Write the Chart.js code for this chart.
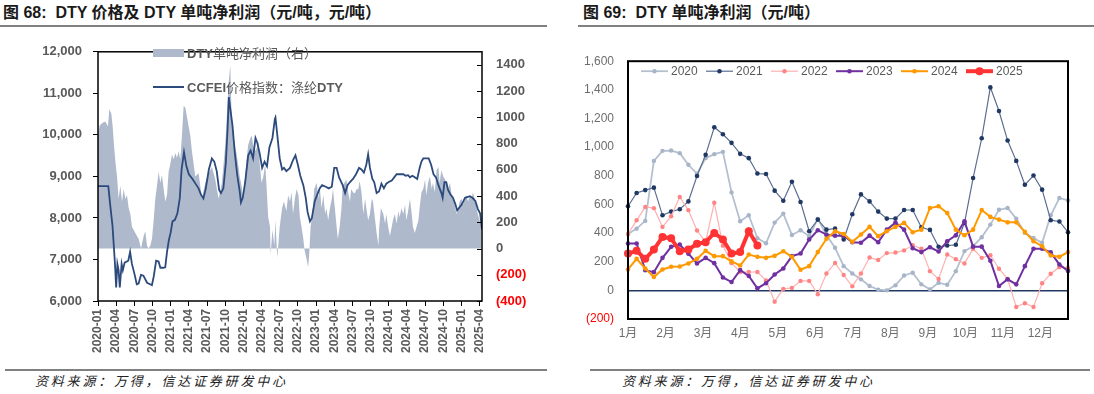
<!DOCTYPE html>
<html>
<head>
<meta charset="utf-8">
<script src="https://cdn.jsdelivr.net/npm/chart.js@4.4.1/dist/chart.umd.min.js"></script>
<style>
body { margin: 0; width: 1094px; height: 394px; background: #fff; position: relative; overflow: hidden; font-family: "Liberation Sans", "Noto Sans CJK SC", sans-serif; }
.title { position: absolute; top: 3px; font-weight: bold; font-size: 16px; color: #1a1a1a; white-space: nowrap; line-height: 20px; }
.rule { position: absolute; height: 2px; background: #808080; }
.src { position: absolute; top: 371px; font-size: 13px; font-style: italic; color: #222; letter-spacing: 2.8px; white-space: nowrap; font-family: "Noto Sans CJK SC", sans-serif; }
canvas { position: absolute; }
.lg { position: absolute; left: 187px; font-size: 13px; line-height: 16px; color: #595959; white-space: nowrap; font-family: "Noto Sans CJK SC", sans-serif; z-index: 2; }
.lg b { font-family: "Liberation Sans", sans-serif; }
.sw { position: absolute; left: 153px; width: 31px; z-index: 2; }
</style>
</head>
<body>
<div class="title" style="left:3px">图 68:&nbsp; DTY 价格及 DTY 单吨净利润（元/吨，元/吨）</div>
<div class="rule" style="left:0;top:25px;width:547px"></div>
<div class="title" style="left:583px">图 69:&nbsp; DTY 单吨净利润（元/吨）</div>
<div class="rule" style="left:578px;top:25px;width:516px"></div>
<canvas id="leftChart" width="547" height="336" style="left:0;top:30px"></canvas>
<div class="sw" style="top:49px;height:8px;background:#AEB9CB"></div>
<div class="lg" style="top:45px"><b>DTY</b>单吨净利润（右）</div>
<div class="sw" style="top:86px;height:2px;background:#2C4A7C"></div>
<div class="lg" style="top:79px"><b>CCFEI</b>价格指数：涤纶<b>DTY</b></div>
<canvas id="rightChart" width="514" height="305" style="left:580px;top:40px"></canvas>
<div class="rule" style="left:5px;top:369px;width:542px"></div>
<div class="src" style="left:35px">资料来源：万得，信达证券研发中心</div>
<div class="rule" style="left:590px;top:369px;width:500px"></div>
<div class="src" style="left:622px">资料来源：万得，信达证券研发中心</div>
<script>
// ---- chart 68: months counted from 2020-01 ----
const priceMonths = [
    0, 1.7, 2.0, 2.4, 2.8, 3.0, 3.2, 3.4, 3.6, 3.9,
    4.1, 4.4, 5.0, 5.3, 5.6, 6.0, 6.4, 6.7, 7.1, 7.5,
    8.1, 8.6, 8.9, 9.2, 9.6, 10.0, 10.3, 10.8, 11.1, 11.4,
    11.7, 12.0, 12.3, 12.7, 13.1, 13.5, 13.8, 14.2, 14.6, 15.0,
    15.6, 16.1, 16.6, 17.0, 17.4, 17.8, 18.3, 18.8, 19.2, 19.6,
    20.0, 20.3, 20.7, 21.1, 21.4, 21.6, 21.8, 22.2, 22.6, 23.0,
    23.4, 23.6, 23.9, 24.3, 24.8, 25.2, 25.6, 26.0, 26.3, 26.7,
    27.1, 27.5, 27.9, 28.3, 28.8, 29.2, 29.3, 29.6, 30.0, 30.4,
    30.7, 31.1, 31.7, 32.2, 32.6, 33.0, 33.4, 33.9, 34.3, 34.6,
    35.0, 35.3, 35.8, 36.2, 36.6, 37.0, 37.6, 38.1, 38.6, 39.0,
    39.4, 39.8, 40.4, 40.8, 41.2, 41.6, 42.1, 42.6, 43.1, 43.5,
    43.9, 44.3, 44.6, 44.9, 45.3, 45.6, 46.0, 46.4, 46.8, 47.2,
    47.6, 48.0, 48.5, 48.9, 49.3, 50.4, 50.8, 51.2, 51.5, 51.9,
    52.3, 52.7, 53.1, 53.4, 53.7, 54.6, 55.0, 55.4, 55.8, 56.2,
    56.7, 56.9, 57.2, 57.5, 57.8, 58.2, 58.6, 59.0, 59.3, 59.7,
    60.1, 60.6, 61.4, 61.8, 62.3, 62.7, 63.1, 63.4
];
const priceValues = [
    8766, 8766, 8334, 7803, 6893, 6325, 6893, 6743, 6325, 6893,
    6743, 6925, 6970, 7182, 6893, 6666, 6402, 6420, 6630, 6610,
    6440, 6402, 6380, 6590, 6970, 6950, 6800, 6800, 6810, 7190,
    7462, 7652, 7917, 7955, 8106, 8470, 9166, 9584, 9243, 9052,
    8939, 8826, 8712, 8561, 8470, 8712, 9166, 9432, 9356, 9128,
    8674, 8598, 8712, 9318, 10153, 10910, 10682, 10228, 9546, 9016,
    8637, 8371, 8485, 8864, 9507, 9621, 9432, 9925, 9811, 9546,
    9205, 9356, 9243, 9697, 9925, 10380, 10418, 10000, 9432, 9166,
    9205, 9128, 9205, 9394, 9507, 9280, 9016, 8789, 8485, 8144,
    7917, 7993, 8409, 8561, 8712, 8789, 8750, 8712, 8750, 9205,
    9205, 8977, 8789, 8598, 8789, 8864, 8939, 9052, 9205, 9166,
    9090, 9280, 9530, 9205, 8939, 8864, 8598, 8637, 8826, 8712,
    8826, 8864, 8901, 8977, 9052, 9052, 9016, 9030, 8977, 9016,
    8977, 8939, 9205, 9356, 9432, 9432, 9280, 9052, 8977, 8789,
    8598, 8485, 8864, 8864, 8674, 8561, 8485, 8334, 8182, 8258,
    8334, 8485, 8523, 8485, 8409, 8220, 8106, 7727
];
const profitMonths = [
    0, 0.3, 0.77, 1.21, 1.65, 1.87, 2.2, 2.42, 2.64, 2.86,
    3.14, 3.41, 3.69, 3.96, 4.24, 4.51, 4.79, 5.06, 5.34, 5.61,
    6.16, 6.71, 7.1, 7.54, 7.81, 8.09, 8.36, 8.64, 8.91, 9.19,
    9.46, 9.74, 10.01, 10.29, 10.56, 10.84, 11.11, 11.39, 11.66, 11.94,
    12.21, 12.49, 12.76, 13.04, 13.31, 13.59, 13.86, 14.14, 14.41, 14.69,
    14.96, 15.24, 15.51, 16.06, 16.61, 17.16, 17.71, 18.26, 18.81, 19.36,
    19.91, 20.46, 21.01, 21.29, 21.57, 21.84, 22.05, 22.3, 22.6, 22.9,
    23.2, 23.4, 23.7, 24.0, 24.3, 24.5, 24.8, 25.1, 25.4, 25.6,
    25.9, 26.2, 26.5, 26.7, 27.0, 27.3, 27.6, 27.8, 28.1, 28.4,
    28.5, 28.8, 29.1, 29.3, 29.6, 30.0, 30.4, 30.7, 31.1, 31.4,
    31.7, 31.96, 32.2, 32.5, 32.8, 33.1, 33.33, 33.6, 33.9, 34.1,
    34.4, 34.7, 34.9, 35.1, 35.4, 35.7, 36.1, 36.4, 36.6, 36.9,
    37.2, 37.5, 37.7, 38.0, 38.3, 38.6, 38.8, 39.1, 39.4, 39.6,
    39.9, 40.2, 40.4, 40.7, 41.0, 41.3, 41.6, 41.8, 42.1, 42.4,
    42.7, 42.96, 43.2, 43.5, 43.8, 44.1, 44.3, 44.6, 44.9, 45.2,
    45.4, 45.7, 46.0, 46.3, 46.4, 46.7, 47.1, 47.4, 47.6, 47.9,
    48.2, 48.5, 48.7, 49.0, 49.3, 49.6, 49.8, 50.1, 50.4, 50.7,
    50.9, 51.2, 51.5, 51.8, 52.0, 52.3, 52.6, 52.9, 53.1, 53.4,
    53.7, 54.0, 54.2, 54.5, 54.8, 55.1, 55.3, 55.6, 55.9, 56.2,
    56.4, 56.7, 57.0, 57.3, 57.5, 57.8, 58.1, 58.4, 58.6, 58.9,
    59.2, 59.5, 59.7, 60.0, 60.3, 60.6, 60.8, 61.1, 61.4, 61.7,
    61.9, 62.2, 62.5, 62.7, 63.0, 63.3
];
const profitValues = [
    880, 940, 960, 968, 932, 1063, 1027, 932, 789, 670,
    550, 380, 480, 358, 454, 380, 406, 310, 263, 167,
    119, 72, 0, 95, 131, 24, 0, 24, 72, 215,
    380, 478, 585, 502, 561, 454, 358, 406, 585, 645,
    717, 681, 729, 693, 741, 681, 860, 1087, 1075, 1003,
    932, 860, 741, 550, 574, 380, 502, 574, 621, 526,
    380, 502, 789, 1027, 1266, 1398, 1027, 884, 789, 717,
    621, 550, 478, 380, 550, 669, 789, 836, 860, 789,
    741, 765, 813, 645, 502, 550, 645, 502, 239, 167,
    -48, 143, 24, 215, -72, 167, 310, 358, 286, 406,
    358, 430, 263, 380, 454, 406, 239, 167, 72, -12,
    -72, -143, -24, 167, 263, 454, 502, 380, 478, 310,
    406, 263, 310, 215, 310, 380, 454, 310, 167, 72,
    167, 310, 478, 502, 526, 430, 358, 454, 430, 420,
    454, 450, 514, 430, 263, 380, 310, 215, 263, 380,
    358, 239, 119, 24, 143, 310, 263, 191, 263, 167,
    95, 167, 215, 263, 191, 286, 239, 310, 263, 334,
    215, 286, 380, 263, 167, 119, 167, 215, 310, 430,
    454, 526, 406, 502, 550, 454, 502, 430, 597, 621,
    502, 597, 550, 526, 502, 454, 502, 406, 380, 334,
    263, 310, 358, 380, 334, 380, 406, 358, 406, 380,
    430, 380, 310, 263, 215, 167
];
const priceTicks = [6000, 7000, 8000, 9000, 10000, 11000, 12000];
const profitTicks = [-400, -200, 0, 200, 400, 600, 800, 1000, 1200, 1400];
const quarterTicks = [0, 3, 6, 9, 12, 15, 18, 21, 24, 27, 30, 33, 36, 39, 42, 45, 48, 51, 54, 57, 60, 63];

// ---- chart 69: weekly net profit by year ----
const monthLabels = ['1月', '2月', '3月', '4月', '5月', '6月', '7月', '8月', '9月', '10月', '11月', '12月'];
const yearNames = ['2020', '2021', '2022', '2023', '2024', '2025'];
const profit2020 = [394, 431, 485, 904, 974, 976, 958, 877, 814, 923, 951, 967, 684, 482, 524, 364, 329, 473, 536, 387, 420, 378, 499, 387, 297, 169, 118, 77, 30, 5, 0, 35, 104, 123, 42, 7, 53, 39, 134, 274, 308, 371, 459, 563, 575, 501, 401, 366, 332, 524, 645, 628];
const profit2021 = [587, 680, 700, 717, 524, 550, 566, 621, 798, 946, 1139, 1090, 1030, 953, 923, 816, 812, 696, 626, 758, 617, 413, 494, 424, 431, 355, 531, 670, 621, 550, 501, 501, 561, 561, 440, 422, 304, 313, 318, 470, 784, 1062, 1417, 1252, 1046, 904, 737, 802, 703, 490, 481, 406];
const profit2022 = [394, 489, 582, 574, 443, 517, 652, 560, 418, 338, 612, 312, 190, 128, 128, 128, 70, -79, 10, 17, 66, 66, -27, 118, 191, 107, 28, 118, 229, 212, 260, 264, 279, 316, 290, 134, 79, 250, 218, 188, 290, 227, 245, 151, 80, -116, -90, -116, 50, 116, 162, 158];
const profit2023 = [327, 327, 141, 127, 227, 304, 320, 256, 188, 227, 190, 90, 58, 141, 100, 14, 50, 111, 153, 239, 257, 355, 420, 389, 382, 382, 336, 332, 382, 336, 424, 473, 424, 294, 267, 301, 271, 343, 384, 482, 305, 305, 207, 30, 77, 42, 169, 290, 290, 265, 181, 136];
const profit2024 = [146, 220, 153, 93, 146, 165, 167, 188, 220, 276, 239, 239, 202, 174, 250, 234, 227, 241, 273, 234, 144, 169, 267, 360, 413, 394, 339, 390, 443, 378, 413, 443, 471, 406, 424, 575, 587, 540, 424, 385, 424, 561, 513, 494, 475, 475, 408, 343, 308, 243, 234, 267];
const profit2025 = [257, 276, 220, 285, 373, 364, 273, 285, 325, 336, 401, 355, 257, 267, 413, 313];
const weeklyTicks = [-200, 0, 200, 400, 600, 800, 1000, 1200, 1400, 1600];

Chart.defaults.font.family = '"Liberation Sans", "Noto Sans CJK SC", sans-serif';
Chart.defaults.color = '#595959';

function toPoints(xs, ys) {
    return ys.map((v, i) => ({ x: xs[i], y: v }));
}

const leftFrame = {
    id: 'leftFrame',
    afterDraw(chart) {
        const ctx = chart.ctx;
        const a = chart.chartArea;
        const y1 = chart.scales.y1;
        ctx.save();
        ctx.strokeStyle = '#000';
        ctx.lineWidth = 1.5;
        ctx.strokeRect(a.left, a.top, a.right - a.left, a.bottom - a.top);
        // inside tick marks on the right axis
        ctx.lineWidth = 1;
        y1.ticks.forEach(t => {
            const py = Math.round(y1.getPixelForValue(t.value)) + 0.5;
            ctx.beginPath();
            ctx.moveTo(a.right - 5, py);
            ctx.lineTo(a.right, py);
            ctx.stroke();
        });
        ctx.restore();
    }
};

new Chart(document.getElementById('leftChart'), {
    type: 'line',
    data: {
        datasets: [
            {
                label: 'CCFEI价格指数：涤纶DTY',
                data: toPoints(priceMonths, priceValues),
                yAxisID: 'y',
                borderColor: '#2C4A7C',
                borderWidth: 1.8,
                pointRadius: 0,
                fill: false,
                order: 0
            },
            {
                label: 'DTY单吨净利润（右）',
                data: toPoints(profitMonths, profitValues),
                yAxisID: 'y1',
                borderWidth: 0,
                borderColor: 'rgba(0,0,0,0)',
                backgroundColor: '#AEB9CB',
                fill: 'origin',
                pointRadius: 0,
                order: 1
            }
        ]
    },
    options: {
        responsive: false,
        animation: false,
        devicePixelRatio: 1,
        layout: { padding: { top: 7, left: 0, right: 0, bottom: 0 } },
        plugins: { legend: { display: false }, tooltip: { enabled: false } },
        scales: {
            x: {
                type: 'linear',
                bounds: 'data',
                min: 0,
                max: 63.4,
                afterBuildTicks: s => { s.ticks = quarterTicks.map(v => ({ value: v })); },
                afterFit: s => { s.height = 65; },
                border: { display: false },
                grid: { display: true, drawOnChartArea: false, drawTicks: true, tickLength: 5, color: '#000' },
                ticks: {
                    autoSkip: false,
                    minRotation: 90,
                    maxRotation: 90,
                    padding: 3,
                    font: { size: 12, weight: 'bold' },
                    callback: v => {
                        const y = 2020 + Math.floor(v / 12);
                        const m = v % 12 + 1;
                        return y + '-' + (m < 10 ? '0' + m : m);
                    }
                }
            },
            y: {
                position: 'left',
                bounds: 'data',
                min: 6000,
                max: 12000,
                afterBuildTicks: s => { s.ticks = priceTicks.map(v => ({ value: v })); },
                afterFit: s => { s.width = 98; },
                border: { display: false },
                grid: { display: true, drawOnChartArea: false, drawTicks: true, tickLength: 5, color: '#000' },
                ticks: {
                    padding: 11,
                    font: { size: 13, weight: 'bold' },
                    callback: v => v.toLocaleString('en-US')
                }
            },
            y1: {
                position: 'right',
                bounds: 'data',
                min: -400,
                max: 1500,
                afterBuildTicks: s => { s.ticks = profitTicks.map(v => ({ value: v })); },
                afterFit: s => { s.width = 65; },
                border: { display: false },
                grid: { display: false, drawTicks: false },
                ticks: {
                    autoSkip: false,
                    padding: 14,
                    font: { size: 13, weight: 'bold' },
                    color: c => (c.tick && c.tick.value < 0 ? '#FF0000' : '#595959'),
                    callback: v => (v < 0 ? '(' + (-v) + ')' : String(v))
                }
            }
        }
    },
    plugins: [leftFrame]
});

// ---- right chart ----
const yearSeries = [profit2020, profit2021, profit2022, profit2023, profit2024, profit2025];
const lineColors = ['#B4C0D0', '#5B6E91', '#FFB0B0', '#7030A0', '#FF9900', '#FF3333'];
const dotColors = ['#A8B5C8', '#203864', '#FF8585', '#7030A0', '#FF9900', '#FF3333'];
const lineWidths = [1.8, 1.2, 1.2, 2, 2, 4];
const dotSizes = [2.2, 2.3, 2.2, 2.3, 2.3, 4];

const rightDecor = {
    id: 'rightDecor',
    afterDraw(chart) {
        const ctx = chart.ctx;
        const a = chart.chartArea;
        ctx.save();
        ctx.strokeStyle = '#000';
        ctx.lineWidth = 2;
        ctx.strokeRect(a.left, a.top, a.right - a.left, a.bottom - a.top);
        const ly = a.top + 10;
        ctx.textAlign = 'left';
        ctx.textBaseline = 'middle';
        chart.data.datasets.forEach((ds, i) => {
            const x0 = a.left + 13 + i * 65;
            ctx.strokeStyle = ds.borderColor;
            ctx.lineWidth = ds.borderWidth;
            ctx.beginPath();
            ctx.moveTo(x0, ly);
            ctx.lineTo(x0 + 27, ly);
            ctx.stroke();
            ctx.fillStyle = ds.pointBackgroundColor;
            ctx.beginPath();
            ctx.arc(x0 + 13.5, ly, ds.pointRadius, 0, Math.PI * 2);
            ctx.fill();
            ctx.fillStyle = '#595959';
            ctx.font = '12px "Liberation Sans"';
            ctx.fillText(ds.label, x0 + 30, ly + 0.5);
        });
        ctx.restore();
    }
};

new Chart(document.getElementById('rightChart'), {
    type: 'line',
    data: {
        datasets: yearSeries.map((vals, i) => ({
            label: yearNames[i],
            data: vals.map((v, w) => ({ x: w, y: v })),
            borderColor: lineColors[i],
            borderWidth: lineWidths[i],
            pointRadius: dotSizes[i],
            pointBackgroundColor: dotColors[i],
            pointBorderColor: dotColors[i],
            pointBorderWidth: 0,
            fill: false,
            clip: false,
            order: 5 - i
        }))
    },
    options: {
        responsive: false,
        animation: false,
        devicePixelRatio: 1,
        layout: { padding: { top: 20, left: 0, right: 26, bottom: 0 } },
        plugins: { legend: { display: false }, tooltip: { enabled: false } },
        scales: {
            x: {
                type: 'linear',
                bounds: 'data',
                min: 0,
                max: 51,
                afterBuildTicks: s => { s.ticks = monthLabels.map((m, k) => ({ value: k * 52.14 / 12 })); },
                afterFit: s => { s.height = 26; },
                border: { display: false },
                grid: { display: false, drawTicks: false },
                ticks: {
                    autoSkip: false,
                    maxRotation: 0,
                    padding: 7,
                    color: '#6E6E6E',
                    font: { size: 12 },
                    callback: (v, idx) => monthLabels[idx]
                }
            },
            y: {
                bounds: 'data',
                min: -200,
                max: 1600,
                afterBuildTicks: s => { s.ticks = weeklyTicks.map(v => ({ value: v })); },
                afterFit: s => { s.width = 48; },
                border: { display: false },
                grid: {
                    drawOnChartArea: true,
                    drawTicks: false,
                    lineWidth: 1.5,
                    color: c => (c.tick && c.tick.value === 0 ? '#1F3864' : 'rgba(0,0,0,0)')
                },
                ticks: {
                    autoSkip: false,
                    padding: 14,
                    font: { size: 12 },
                    color: c => (c.tick && c.tick.value < 0 ? '#FF0000' : '#6E6E6E'),
                    callback: v => (v < 0 ? '(' + (-v).toLocaleString('en-US') + ')' : v.toLocaleString('en-US'))
                }
            }
        }
    },
    plugins: [rightDecor]
});
</script>
</body>
</html>
